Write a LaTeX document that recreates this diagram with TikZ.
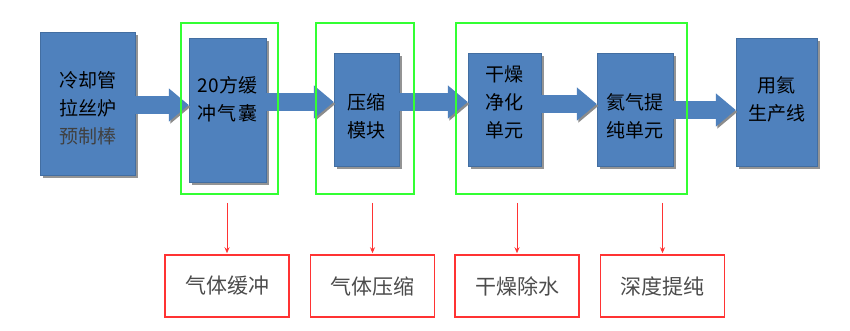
\documentclass[tikz,border=0pt]{standalone}
\usepackage{fontspec}
\newfontfamily\cjk{Noto Sans CJK SC}
\usetikzlibrary{arrows.meta,shadows}
\definecolor{boxblue}{HTML}{4F81BD}
\definecolor{framegreen}{HTML}{33FF33}
\definecolor{notered}{HTML}{FF3333}

\begin{document}
\begin{tikzpicture}
      [x=1pt,y=-1pt,
       blk/.style={rectangle,fill=boxblue,draw=boxblue!85!black,thin,
         drop shadow={shadow xshift=2.5pt,shadow yshift=-2.5pt,fill=black!60,opacity=.7}},
       txt/.style={align=center,font=\cjk\fontsize{19}{28}\selectfont,text=black},
       grp/.style={rectangle,draw=framegreen,line width=1.5pt,minimum width=#1,minimum height=171pt},
       note/.style={rectangle,draw=notered,line width=1.5pt,minimum width=124pt,minimum height=62pt,
         font=\cjk\fontsize{21}{21}\selectfont,text=black!70},
       blockarr/.style={line width=18pt,draw=boxblue,-{Triangle[length=20pt,width=32pt]},
         preaction={draw=black!45,transform canvas={shift={(1.5pt,-2pt)}}}},
       redarr/.style={draw=notered,line width=1pt,-{Stealth[length=6pt,width=5pt]},
         shorten <=8pt,shorten >=1pt}]
      \useasboundingbox (0,0) rectangle (850,330);

      % process boxes
      \node[blk,minimum width=95pt,minimum height=143pt] (b1) at (87.5,103.5) {};
      \node[blk,minimum width=77pt,minimum height=144pt] (b2) at (227.5,110) {};
      \node[blk,minimum width=65pt,minimum height=113pt] (b3) at (366.5,109.5) {};
      \node[blk,minimum width=73pt,minimum height=113pt] (b4) at (504.5,109.5) {};
      \node[blk,minimum width=76pt,minimum height=113pt] (b5) at (635,109.5) {};
      \node[blk,minimum width=81pt,minimum height=128pt] (b6) at (776.5,102) {};

      \node[txt] (t1) at (87.5,108) {冷却管\\拉丝炉\\\textcolor{black!75}{预制棒}};
      \node[txt] (t2) at (227.5,99) {20方缓\\冲\hspace{2pt}气\hspace{2pt}囊};
      \node[txt] (t3) at (366.5,116) {压缩\\模块};
      \node[txt] (t4) at (504.5,102) {干燥\\净化\\单元};
      \node[txt] (t5) at (635,116) {氦气提\\纯单元};
      \node[txt] (t6) at (776.5,99) {用氦\\生产线};

      \foreach \from/\to/\y in {b1/b2/105,b2/b3/102,b3/b4/102,b4/b5/104,b5/b6/110}
      \draw[blockarr] (\from.east |- 0,\y) -- (\to.west |- 0,\y);

      % groups
      \node[grp=97pt] (g1) at (229.5,108.5) {};
      \node[grp=98pt] (g2) at (365,108.5) {};
      \node[grp=231pt] (g3) at (571.5,108.5) {};

      % notes
      \node[note] (r1) at (227,286) {气体缓冲};
      \node[note] (r2) at (372.5,286) {气体压缩};
      \node[note] (r3) at (517,286) {干燥除水};
      \node[note] (r4) at (662.5,286) {深度提纯};

      \foreach \from/\to in {g1/r1,g2/r2,g3/r3,g3/r4}
      \draw[redarr] (\to.north |- \from.south) -- (\to.north);
\end{tikzpicture}
\end{document}
